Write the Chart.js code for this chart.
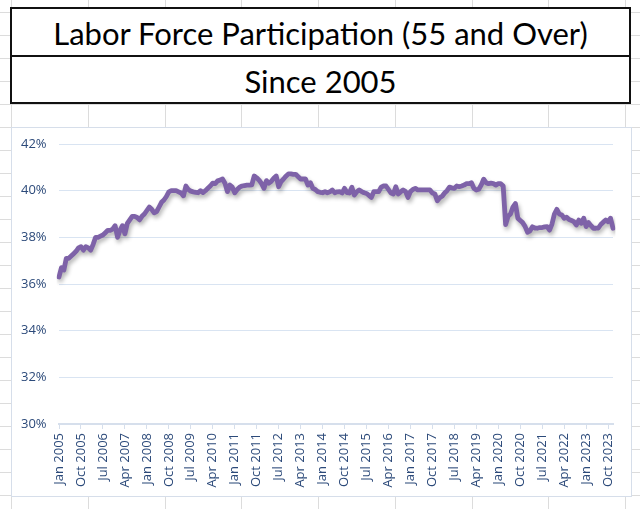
<!DOCTYPE html>
<html>
<head>
<meta charset="utf-8">
<script src="https://cdn.jsdelivr.net/npm/chart.js@4.4.1/dist/chart.umd.min.js"></script>
<style>
  html, body { margin: 0; padding: 0; }
  body { width: 640px; height: 509px; overflow: hidden; background: #ffffff; position: relative; }
  .gl { position: absolute; background: #DCDCDC; }
  #titlebox { position: absolute; left: 10px; top: 7px; width: 621px; height: 97px; box-sizing: border-box;
    border: 2px solid #111; background: #fff; font-family: Lato, "Open Sans", sans-serif; color: #000; }
  #titlebox .row { position: absolute; left: 0; right: 0; text-align: center; font-size: 31px; line-height: 46px; }
  #t1 { top: 1px; height: 45px; }
  #sep { position: absolute; left: 0; right: 0; top: 46px; height: 2px; background: #111; }
  #t2 { top: 49px; height: 45px; }
  #chartbox { position: absolute; left: 11px; top: 127px; width: 621px; height: 370px; box-sizing: border-box;
    border: 1px solid #D6DEEA; background: #fff; }
  #c { position: absolute; left: 0; top: 0; }
</style>
</head>
<body>
<div id="grid"></div>
<div id="titlebox">
  <div class="row" id="t1">Labor Force Participation (55 and Over)</div>
  <div id="sep"></div>
  <div class="row" id="t2">Since 2005</div>
</div>
<div id="chartbox"><canvas id="c" width="619" height="368"></canvas></div>
<script>
// ---- data ----
const monthNames = ['Jan','Feb','Mar','Apr','May','Jun','Jul','Aug','Sep','Oct','Nov','Dec'];
const startYear = 2005;
const endYear = 2023;
const yTicks = [30, 32, 34, 36, 38, 40, 42];
const labelEvery = 9;
// Labor force participation rate, 55 and over, monthly Jan 2005 - Dec 2023
const participation = [
  36.3, 36.7, 36.6, 37.1, 37.1, 37.2, 37.3, 37.4, 37.55, 37.6, 37.45, 37.6,
  37.55, 37.45, 37.7, 38.0, 38.0, 38.05, 38.1, 38.2, 38.3, 38.3, 38.35, 38.5,
  38.0, 38.3, 38.5, 38.15, 38.6, 38.75, 38.9, 38.9, 38.85, 38.75, 38.9, 39.0,
  39.15, 39.3, 39.2, 39.05, 39.1, 39.3, 39.5, 39.6, 39.75, 39.95, 40.0, 40.0,
  40.0, 39.95, 39.9, 39.78, 40.2, 40.05, 39.98, 39.95, 39.93, 39.91, 40.0, 39.92,
  40.0, 40.1, 40.2, 40.32, 40.3, 40.42, 40.45, 40.5, 40.32, 39.96, 40.24, 40.15,
  39.91, 40.05, 40.15, 40.2, 40.22, 40.24, 40.24, 40.25, 40.63, 40.55, 40.45, 40.3,
  40.1, 40.43, 40.32, 40.4, 40.53, 40.63, 40.17, 40.39, 40.5, 40.62, 40.72, 40.72,
  40.7, 40.7, 40.6, 40.5, 40.5, 40.5, 40.24, 40.34, 40.1, 40.05, 39.96, 39.93,
  39.91, 39.96, 39.91, 39.95, 40.03, 39.91, 39.95, 39.96, 39.9, 40.1, 39.92, 39.9,
  40.15, 39.81, 39.95, 40.03, 39.96, 39.91, 39.88, 39.8, 39.71, 39.96, 39.96, 39.96,
  40.15, 40.2, 40.2, 40.05, 39.9, 39.86, 40.17, 39.86, 39.95, 40.03, 39.96, 39.71,
  39.96, 40.05, 40.1, 40.03, 40.03, 40.03, 40.03, 40.03, 40.03, 39.9, 39.86, 39.57,
  39.7, 39.76, 39.9, 40.0, 40.15, 40.12, 40.1, 40.2, 40.17, 40.2, 40.24, 40.3,
  40.3, 40.34, 40.1, 40.03, 40.06, 40.24, 40.49, 40.34, 40.3, 40.32, 40.3, 40.24,
  40.3, 40.3, 40.2, 38.55, 38.9, 39.0, 39.3, 39.45, 38.82, 38.72, 38.63, 38.46,
  38.22, 38.28, 38.45, 38.4, 38.39, 38.42, 38.42, 38.45, 38.46, 38.31, 38.57, 39.0,
  39.2, 39.0, 38.96, 38.82, 38.86, 38.76, 38.72, 38.67, 38.53, 38.74, 38.6, 38.82,
  38.46, 38.63, 38.5, 38.39, 38.39, 38.4, 38.55, 38.65, 38.74, 38.67, 38.82, 38.39
];

const monthLabels = [];
for (let y = startYear; y <= endYear; y++) for (const m of monthNames) monthLabels.push(m + ' ' + y);

// ---- spreadsheet grid background ----
(function(){
  const g = document.getElementById('grid');
  for (let k = 0; k < 9; k++) {
    const x = Math.round(11 + k * 76.75);
    const d = document.createElement('div'); d.className = 'gl';
    d.style.left = x + 'px'; d.style.top = '0px'; d.style.width = '1px'; d.style.height = '509px';
    g.appendChild(d);
  }
  for (let y = 127 - 23 * 6; y < 509; y += 23) {
    if (y < 0) continue;
    const d = document.createElement('div'); d.className = 'gl';
    d.style.left = '0px'; d.style.top = y + 'px'; d.style.width = '640px'; d.style.height = '1px';
    g.appendChild(d);
  }
})();

const tickColor = '#2C4A7A';
const tickFont = { family: '"Open Sans", sans-serif', size: 13 };
const shadowPlugin = {
  id: 'lineShadow',
  beforeDatasetDraw(chart) {
    const ctx = chart.ctx; ctx.save();
    ctx.shadowColor = 'rgba(0,0,0,0.3)'; ctx.shadowBlur = 4; ctx.shadowOffsetX = 1.5; ctx.shadowOffsetY = 3;
  },
  afterDatasetDraw(chart) { chart.ctx.restore(); }
};

new Chart(document.getElementById('c'), {
  type: 'line',
  data: {
    labels: monthLabels,
    datasets: [{
      data: participation,
      borderColor: '#7E62A8',
      borderWidth: 4.8,
      pointRadius: 0,
      tension: 0,
      borderJoinStyle: 'round',
      borderCapStyle: 'round',
      fill: false
    }]
  },
  plugins: [shadowPlugin],
  options: {
    responsive: false,
    animation: false,
    devicePixelRatio: 1,
    layout: { padding: { left: 9, right: 18, top: 16, bottom: 0 } },
    plugins: { legend: { display: false }, tooltip: { enabled: false }, title: { display: false } },
    scales: {
      x: {
        type: 'category',
        offset: false,
        afterBuildTicks: (scale) => { scale.ticks = scale.ticks.filter(t => t.value % labelEvery === 0); },
        afterFit: (scale) => { scale.height = 72; },
        ticks: { autoSkip: false, minRotation: 90, maxRotation: 90, padding: 4, color: tickColor, font: tickFont },
        grid: { display: true, drawOnChartArea: false, drawTicks: true, tickLength: 5, color: '#D6DFEC', lineWidth: 1 },
        border: { display: true, color: '#D6DFEC', width: 2 }
      },
      y: {
        min: 30, max: 42,
        afterBuildTicks: (scale) => { scale.ticks = yTicks.map(v => ({ value: v })); },
        afterFit: (scale) => { scale.width = 38; },
        ticks: { padding: 0, crossAlign: 'far', color: tickColor, font: tickFont,
                 callback: (v) => v + '%' },
        grid: { color: '#D9E4F2', lineWidth: 1, drawTicks: false },
        border: { display: false }
      }
    }
  }
});
</script>
</body>
</html>
